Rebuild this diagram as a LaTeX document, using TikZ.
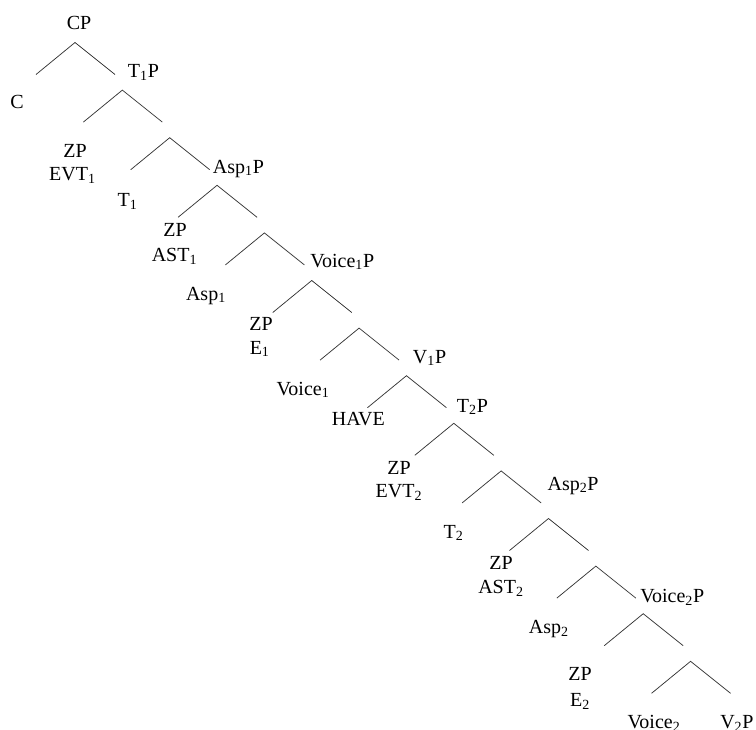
\documentclass[tikz,border=0pt]{standalone}
\usepackage{fontspec}
\setmainfont{Liberation Serif}
\begin{document}
\begin{tikzpicture}[x=0.75pt,y=-0.75pt,
  lab/.style={inner sep=0pt,anchor=base,font=\fontsize{15}{18}\selectfont},
  labw/.style={lab,anchor=base west},
  branch/.style={line width=0.55pt,black!80}]
\useasboundingbox (0,0) rectangle (756,729);
% apexes and leg ends
\foreach \k in {0,...,13}{
  \coordinate (a\k) at ({75+47.35*\k},{42.5+47.6*\k});
  \coordinate (l\k) at ({75+47.35*\k-39},{42.5+47.6*\k+32});
  \coordinate (r\k) at ({75+47.35*\k+40},{42.5+47.6*\k+32});
  \draw[branch] (l\k) -- (a\k) -- (r\k);
}
% projections on the spine
\node[lab]  (cp)      at (79,29.3)    {CP};
\node[labw] (t1p)     at (127.7,77.6) {T\textsubscript{1}P};
\node[labw] (asp1p)   at (212.7,173)  {Asp\textsubscript{1}P};
\node[labw] (voice1p) at (310,267)    {Voice\textsubscript{1}P};
\node[labw] (v1p)     at (412.7,363)  {V\textsubscript{1}P};
\node[labw] (t2p)     at (456.7,412)  {T\textsubscript{2}P};
\node[labw] (asp2p)   at (547.3,490)  {Asp\textsubscript{2}P};
\node[labw] (voice2p) at (640,602.3)  {Voice\textsubscript{2}P};
% left daughters
\node[labw] (c)       at (10,108)     {C};
\node[lab]  (zp1)     at (75,157)     {ZP};
\node[lab]  (evt1)    at (72.5,180.7) {EVT\textsubscript{1}};
\node[lab]  (t1)      at (127.5,206.5){T\textsubscript{1}};
\node[lab]  (zp2)     at (175,236)    {ZP};
\node[lab]  (ast1)    at (174.5,261.7){AST\textsubscript{1}};
\node[lab]  (asp1)    at (206,300)    {Asp\textsubscript{1}};
\node[lab]  (zp3)     at (261,330)    {ZP};
\node[lab]  (e1)      at (259.7,354)  {E\textsubscript{1}};
\node[lab]  (voice1)  at (303,395)    {Voice\textsubscript{1}};
\node[lab]  (have)    at (358.3,425.7){HAVE};
\node[lab]  (zp4)     at (399,474)    {ZP};
\node[lab]  (evt2)    at (399,497.7)  {EVT\textsubscript{2}};
\node[labw] (t2)      at (443.3,538)  {T\textsubscript{2}};
\node[lab]  (zp5)     at (501,569.3)  {ZP};
\node[lab]  (ast2)    at (501,593.3)  {AST\textsubscript{2}};
\node[lab]  (asp2)    at (548.8,633.3){Asp\textsubscript{2}};
\node[lab]  (zp6)     at (580,680)    {ZP};
\node[lab]  (e2)      at (580,706.7)  {E\textsubscript{2}};
\node[lab]  (voice2)  at (654,728.3)  {Voice\textsubscript{2}};
\node[labw] (v2p)     at (720,728.3)  {V\textsubscript{2}P};
\end{tikzpicture}
\end{document}
